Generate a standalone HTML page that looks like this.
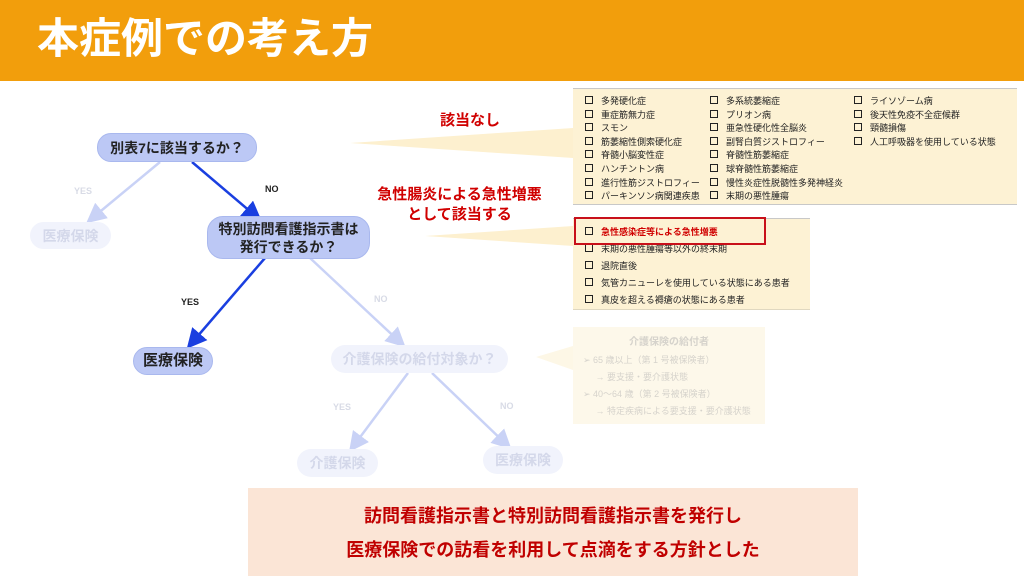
<!DOCTYPE html>
<html><head><meta charset="utf-8"><style>
*{margin:0;padding:0;box-sizing:border-box}
body{width:1024px;height:576px;position:relative;background:#fff;font-family:"Liberation Sans","Noto Sans CJK JP",sans-serif;overflow:hidden}
.a{position:absolute}
.hdr{left:0;top:0;width:1024px;height:81px;background:#f29e0c}
.title{left:37px;top:14px;color:#fff;font-size:42px;font-weight:bold;letter-spacing:0px;line-height:50px}
.node{position:absolute;border-radius:14px;display:flex;align-items:center;justify-content:center;text-align:center;font-weight:bold;color:#222;font-size:14px;line-height:18px;white-space:nowrap}
.on{background:#bcc8f5;border:1px solid #a9b8ee}
.off{background:#f1f3fc;color:#d4d8ea}
.lbl{position:absolute;font-size:9px;font-weight:bold}
.box{position:absolute;background:#fdf2d4;border-top:1px solid #c8c8c8;border-bottom:1px solid #c8c8c8}
.col{position:absolute;font-size:9px;line-height:13.6px;color:#222;white-space:nowrap}
.col div:before{content:"";display:inline-block;width:6px;height:6px;border:1.5px solid #222;margin-right:8px;vertical-align:0px}
.red{color:#d00000;font-weight:bold}
</style></head><body>
<div class="a hdr"></div>
<div class="a title">本症例での考え方</div>

<svg class="a" style="left:0;top:0" width="1024" height="576">
<polygon points="350,143 573,128 573,158" fill="#fdf0cf"/>
<polygon points="425,236 573,226 573,246" fill="#fdf0cf"/>
<polygon points="536,357 573,346 573,370" fill="#fdf7e6"/>
<defs>
<marker id="m1" markerWidth="8" markerHeight="8" refX="6" refY="4" orient="auto"><path d="M0,0 L8,4 L0,8z" fill="#1a3fe0"/></marker>
<marker id="m2" markerWidth="8" markerHeight="8" refX="6" refY="4" orient="auto"><path d="M0,0 L8,4 L0,8z" fill="#c9d2f6"/></marker>
</defs>
<line x1="160" y1="162" x2="90" y2="220" stroke="#c9d2f6" stroke-width="2.5" marker-end="url(#m2)"/>
<line x1="192" y1="162" x2="258" y2="218" stroke="#1a3fe0" stroke-width="2.5" marker-end="url(#m1)"/>
<line x1="265" y1="258" x2="190" y2="345" stroke="#1a3fe0" stroke-width="2.5" marker-end="url(#m1)"/>
<line x1="310" y1="258" x2="402" y2="344" stroke="#c9d2f6" stroke-width="2.5" marker-end="url(#m2)"/>
<line x1="408" y1="373" x2="352" y2="448" stroke="#c9d2f6" stroke-width="2.5" marker-end="url(#m2)"/>
<line x1="432" y1="373" x2="508" y2="446" stroke="#c9d2f6" stroke-width="2.5" marker-end="url(#m2)"/>
</svg>

<div class="node on" style="left:97px;top:133px;width:160px;height:29px">別表7に該当するか？</div>
<div class="node on" style="left:207px;top:216px;width:163px;height:43px;border-radius:16px">特別訪問看護指示書は<br>発行できるか？</div>
<div class="node on" style="left:133px;top:347px;width:80px;height:28px;font-size:15px">医療保険</div>
<div class="node off" style="left:30px;top:222px;width:81px;height:27px">医療保険</div>
<div class="node off" style="left:331px;top:345px;width:177px;height:28px">介護保険の給付対象か？</div>
<div class="node off" style="left:297px;top:449px;width:81px;height:28px">介護保険</div>
<div class="node off" style="left:483px;top:446px;width:80px;height:28px">医療保険</div>

<div class="lbl" style="left:74px;top:186px;color:#d8dbe6">YES</div>
<div class="lbl" style="left:265px;top:184px;color:#222">NO</div>
<div class="lbl" style="left:181px;top:297px;color:#222">YES</div>
<div class="lbl" style="left:374px;top:294px;color:#d8dbe6">NO</div>
<div class="lbl" style="left:333px;top:402px;color:#d8dbe6">YES</div>
<div class="lbl" style="left:500px;top:401px;color:#d8dbe6">NO</div>

<div class="a red" style="left:430px;top:109px;font-size:15px;width:80px;text-align:center">該当なし</div>
<div class="a red" style="left:372px;top:185px;font-size:15px;width:175px;text-align:center;line-height:20px">急性腸炎による急性増悪<br>として該当する</div>

<div class="box" style="left:573px;top:88px;width:444px;height:117px"></div>
<div class="col" style="left:585px;top:95px">
<div>多発硬化症</div><div>重症筋無力症</div><div>スモン</div><div>筋萎縮性側索硬化症</div><div>脊髄小脳変性症</div><div>ハンチントン病</div><div>進行性筋ジストロフィー</div><div>パーキンソン病関連疾患</div></div>
<div class="col" style="left:710px;top:95px">
<div>多系統萎縮症</div><div>プリオン病</div><div>亜急性硬化性全脳炎</div><div>副腎白質ジストロフィー</div><div>脊髄性筋萎縮症</div><div>球脊髄性筋萎縮症</div><div>慢性炎症性脱髄性多発神経炎</div><div>末期の悪性腫瘍</div></div>
<div class="col" style="left:854px;top:95px">
<div>ライソゾーム病</div><div>後天性免疫不全症候群</div><div>頸髄損傷</div><div>人工呼吸器を使用している状態</div></div>

<div class="box" style="left:573px;top:218px;width:237px;height:92px;border-bottom:1px solid #e0d8c0"></div>
<div class="col" style="left:585px;top:224px;line-height:17px">
<div class="red">急性感染症等による急性増悪</div><div>末期の悪性腫瘍等以外の終末期</div><div>退院直後</div><div>気管カニューレを使用している状態にある患者</div><div>真皮を超える褥瘡の状態にある患者</div></div>
<div class="a" style="left:574px;top:217px;width:192px;height:28px;border:2px solid #c8101a"></div>

<div class="a" style="left:573px;top:327px;width:192px;height:97px;background:#fdf8ea"></div>
<div class="a" style="left:573px;top:333px;width:192px;text-align:center;font-size:10px;font-weight:bold;color:#d6d3cc">介護保険の給付者</div>
<div class="a" style="left:583px;top:352px;font-size:9px;line-height:17px;color:#d6d3cc;white-space:nowrap">➢ 65 歳以上（第 1 号被保険者）<br>&nbsp;&nbsp;&nbsp;&nbsp;&nbsp;→ 要支援・要介護状態<br>➢ 40〜64 歳（第 2 号被保険者）<br>&nbsp;&nbsp;&nbsp;&nbsp;&nbsp;→ 特定疾病による要支援・要介護状態</div>

<div class="a" style="left:248px;top:488px;width:610px;height:88px;background:#fbe5d6"></div>
<div class="a red" style="left:248px;top:499px;width:610px;text-align:center;font-size:18px;line-height:34px;color:#c00000">訪問看護指示書と特別訪問看護指示書を発行し<br>医療保険での訪看を利用して点滴をする方針とした</div>
</body></html>
